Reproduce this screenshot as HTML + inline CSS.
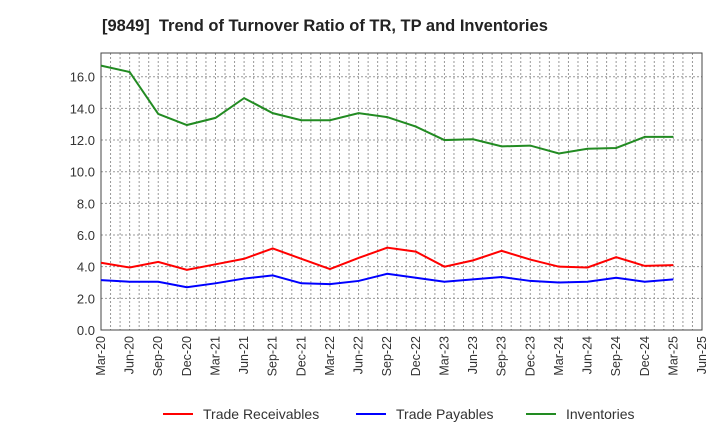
<!DOCTYPE html>
<html><head><meta charset="utf-8"><style>
body{margin:0;background:#fff;font-family:"Liberation Sans",sans-serif}
</style></head><body>
<svg id="c" width="720" height="440" xmlns="http://www.w3.org/2000/svg">
<text x="102" y="31" font-size="16.5" font-weight="bold" fill="#222" style="white-space:pre">[9849]  Trend of Turnover Ratio of TR, TP and Inventories</text>
<g id="grid"></g><g id="axes"></g><g id="series"></g><g id="legend"></g>
</svg>
<script>
const categories=["Mar-20","Jun-20","Sep-20","Dec-20","Mar-21","Jun-21","Sep-21","Dec-21","Mar-22","Jun-22","Sep-22","Dec-22","Mar-23","Jun-23","Sep-23","Dec-23","Mar-24","Jun-24","Sep-24","Dec-24","Mar-25","Jun-25"];
const receivables=[4.25,3.95,4.3,3.8,4.15,4.5,5.15,4.5,3.85,4.55,5.2,4.95,4.0,4.4,5.0,4.45,4.0,3.95,4.6,4.05,4.1];
const payables=[3.15,3.05,3.05,2.7,2.95,3.25,3.45,2.95,2.9,3.1,3.55,3.3,3.05,3.2,3.35,3.1,3.0,3.05,3.3,3.05,3.2];
const inventories=[16.7,16.3,13.65,12.95,13.4,14.65,13.7,13.25,13.25,13.7,13.45,12.85,12.0,12.05,11.6,11.65,11.15,11.45,11.5,12.2,12.2];
const yTicks=[0,2,4,6,8,10,12,14,16];
const yMax=17.5;
const L=101,R=702,T=53,B=330;
const NS="http://www.w3.org/2000/svg";
function X(i){return L+(R-L)*i/(categories.length-1);}
function Y(v){return B-(B-T)*v/yMax;}
function mk(tag,attrs,parent){const e=document.createElementNS(NS,tag);for(const k in attrs)e.setAttribute(k,attrs[k]);parent.appendChild(e);return e;}
const grid=document.getElementById('grid'),axes=document.getElementById('axes'),ser=document.getElementById('series'),leg=document.getElementById('legend');
for(let m=1;m<(categories.length-1)*3;m++){const x=L+(R-L)*m/((categories.length-1)*3);
const g=mk('line',{x1:x,x2:x,y1:T,y2:B,stroke:'#999','stroke-width':1,'stroke-dasharray':'2,2'},grid);

}
yTicks.forEach(v=>{const y=Y(v);
const g=mk('line',{x1:L,x2:R,y1:y,y2:y,stroke:'#999','stroke-width':1,'stroke-dasharray':'2,2'},grid);


const t=mk('text',{x:L-6,y:y+5,'text-anchor':'end','font-size':13,fill:'#333'},axes);t.textContent=v.toFixed(1);

});
categories.forEach((c,i)=>{const x=X(i);
const t=mk('text',{x:x+4,y:B+6,'text-anchor':'end','font-size':12.5,fill:'#333',transform:`rotate(-90 ${x+4} ${B+6})`},axes);t.textContent=c;

});
const frame=mk('rect',{x:L,y:T,width:R-L,height:B-T,fill:'none',stroke:'#444','stroke-width':1},axes);


const S=[["Trade Receivables",receivables,"#ff0000","trade-receivables-line"],["Trade Payables",payables,"#0000ff","trade-payables-line"],["Inventories",inventories,"#228b22","inventories-line"]];
const lx=[163,356,526];
S.forEach((s,k)=>{const p=mk('polyline',{points:s[1].map((v,i)=>X(i)+','+Y(v)).join(' '),fill:'none',stroke:s[2],'stroke-width':2},ser);


const ll=mk('line',{x1:lx[k],x2:lx[k]+30,y1:414,y2:414,stroke:s[2],'stroke-width':2},leg);


const lt=mk('text',{x:lx[k]+40,y:419,'font-size':14,fill:'#333'},leg);lt.textContent=s[0];

});
</script>
</body></html>
